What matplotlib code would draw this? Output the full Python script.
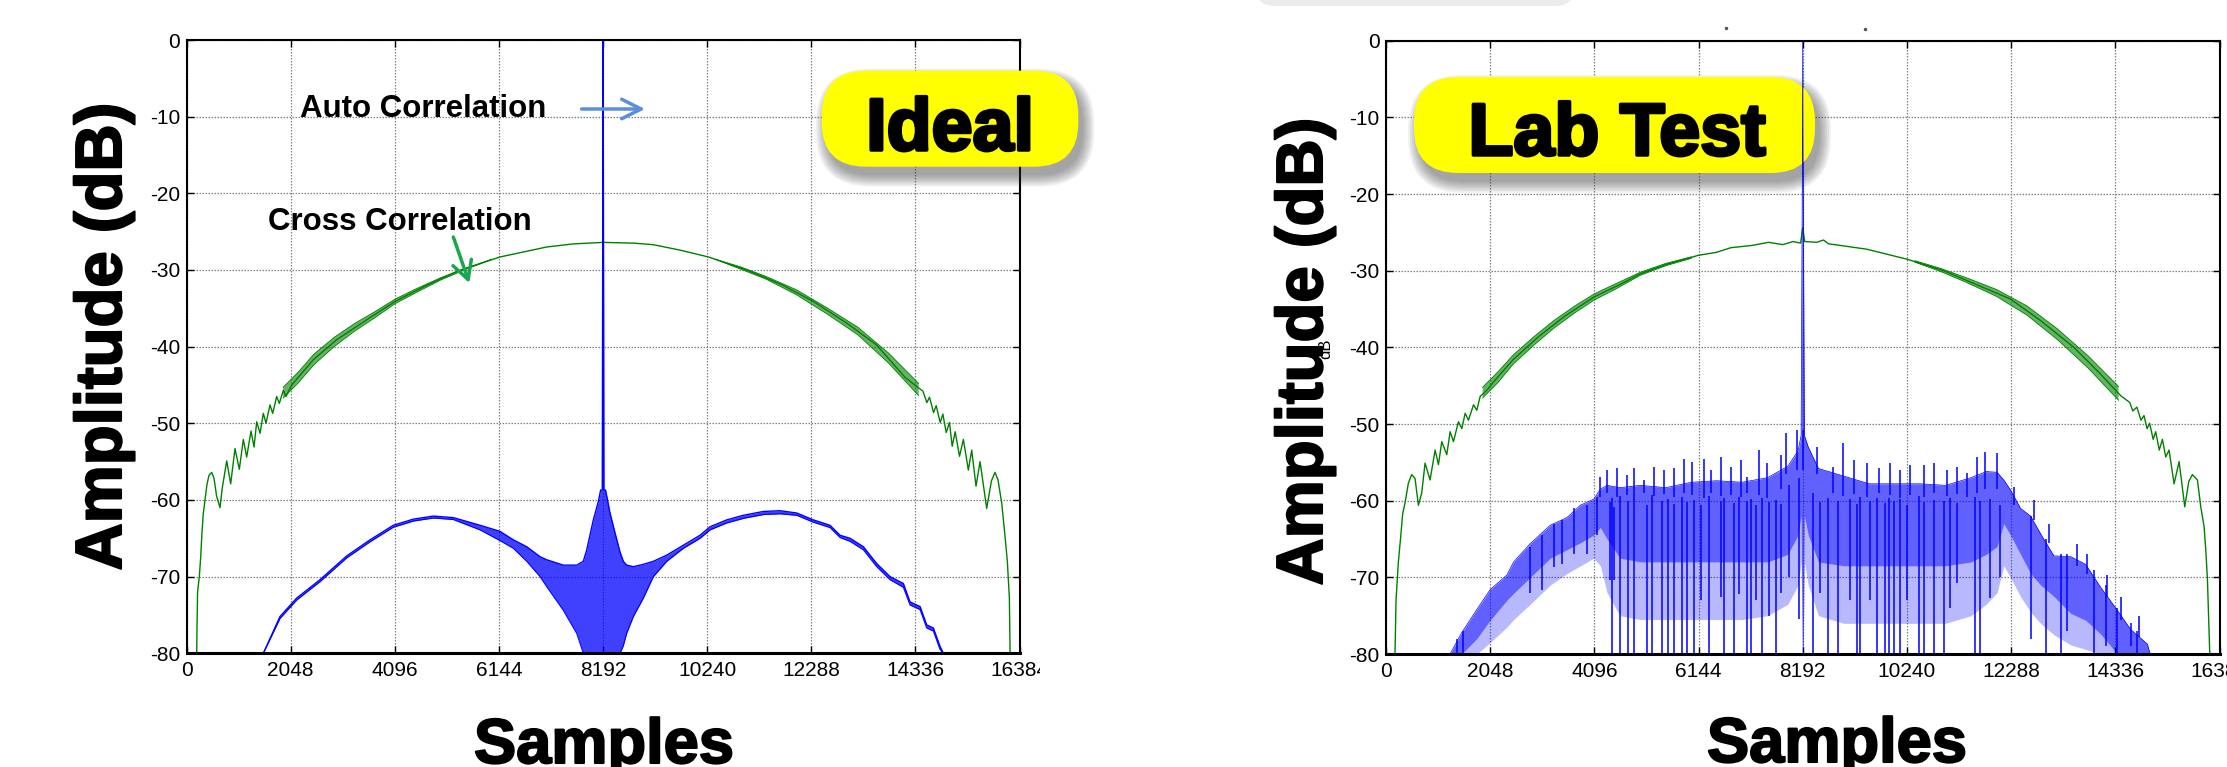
import matplotlib
matplotlib.use('Agg')
import matplotlib.pyplot as plt
import matplotlib.patheffects as pe
from matplotlib.patches import FancyBboxPatch
from matplotlib.transforms import IdentityTransform, Bbox
from matplotlib.lines import Line2D

plt.rcParams['font.family'] = ['Liberation Sans', 'DejaVu Sans']
plt.rcParams['axes.unicode_minus'] = False

W, H = 2227, 767
GREEN = '#008000'
BLUE = '#0000ff'
NAN = float('nan')

# DATA ----------------------------------------------------------------------------------

x_ticks = [0, 2048, 4096, 6144, 8192, 10240, 12288, 14336, 16384]
y_ticks = [-80, -70, -60, -50, -40, -30, -20, -10, 0]

# Ideal: cross correlation (green), centre line
ideal_green_x = [199, 206, 216, 250, 277, 300, 329, 362, 400, 440, 493, 540, 590, 657, 700, 789, 867,
                 952, 1037, 1116, 1182, 1267, 1326, 1379, 1444, 1509, 1562, 1640, 1693, 1772, 1824,
                 1902, 1955, 2067, 2493, 2952, 3542, 4099, 4722, 5312, 6165, 7083, 7600, 8192, 8800,
                 9180, 9700, 10262, 11017, 11700, 12327, 13000, 13574, 14130, 14361, 14482, 14560,
                 14612, 14691, 14744, 14822, 14875, 14940, 15005, 15058, 15117, 15202, 15278, 15376,
                 15442, 15527, 15606, 15737, 15830, 15901, 15960, 16032, 16098, 16143, 16183, 16197]
ideal_green_y = [-80, -76, -72, -70, -67.5, -64.5, -61.7, -60.0, -58.0, -56.8, -56.4, -57.2, -59.5,
                 -61.0, -58.5, -54.9, -57.9, -53.3, -56.0, -52.1, -54.4, -51.0, -53.1, -49.8, -51.3,
                 -48.7, -50.0, -47.6, -48.7, -46.5, -47.4, -45.7, -46.5, -45.0, -41.7, -39.1, -36.5,
                 -34.1, -32.0, -30.2, -28.3, -27.0, -26.6, -26.4, -26.5, -26.7, -27.4, -28.3, -30.0,
                 -31.9, -34.1, -37.0, -39.8, -44.0, -45.2, -45.8, -47.3, -46.6, -48.6, -47.7, -49.9,
                 -48.8, -51.2, -49.9, -53.0, -51.1, -54.3, -52.1, -56.1, -53.5, -58.2, -55.0, -61.1,
                 -57.5, -56.4, -57.4, -60.4, -64.8, -68.0, -72.8, -80]
# thickness of the dense ripple band of the green trace (NaN = no band near the top)
ideal_band_x = [1900, 2200, 2500, 2900, 3300, 3700, 4100, 4500, 5000, 5500, 6000, 8192,
                10400, 10900, 11400, 12000, 12600, 13200, 13800, 14400]
ideal_band_hi = [-45.3, -43.3, -41.0, -38.8, -37.0, -35.45, -33.8, -32.5, -31.0, -29.75, -28.6, NAN,
                 -28.6, -29.6, -30.85, -32.6, -34.95, -37.45, -40.8, -44.8]
ideal_band_lo = [-46.7, -44.7, -42.4, -40.0, -38.0, -36.25, -34.4, -33.0, -31.3, -29.9, -28.6, NAN,
                 -28.6, -29.9, -31.2, -33.25, -35.75, -38.45, -42.1, -46.4]

# Ideal: auto correlation (blue), upper and lower edge of the trace
ideal_blue_x = [1509, 1837, 2165, 2624, 3149, 3608, 4066, 4460, 4853, 5246, 5771, 6165, 6426, 6690,
                6952, 7083, 7410, 7673, 7803, 7870, 8000, 8098, 8144, 8176, 8186, 8192, 8198, 8208,
                8240, 8328, 8427, 8525, 8590, 8655, 8787, 8983, 9180, 9443, 9771, 10099, 10295,
                10623, 10951, 11344, 11672, 12000, 12327, 12655, 12852, 13049, 13311, 13574, 13836,
                14098, 14229, 14426, 14557, 14688, 14819, 14885]
ideal_blue_hi = [-80, -75.2, -72.8, -70.4, -67.3, -65.2, -63.3, -62.5, -62.1, -62.3, -63.3, -64.1,
                 -65.2, -66.1, -67.4, -67.8, -68.5, -68.5, -68.0, -66.5, -62.6, -60.2, -58.7, -58.7,
                 -20, 0, -20, -58.7, -58.7, -61.7, -64.3, -66.8, -68.0, -68.5, -68.7, -68.4, -68.0,
                 -67.2, -65.9, -64.6, -63.5, -62.6, -62.0, -61.5, -61.4, -61.7, -62.6, -63.3, -64.6,
                 -65.0, -66.1, -68.3, -70.0, -70.9, -73.3, -73.9, -76.3, -76.7, -79.1, -80]
ideal_blue_lo = [-80, -75.45, -73.05, -70.65, -67.55, -65.45, -63.55, -62.75, -62.35, -62.55, -63.9,
                 -65.3, -66.3, -68.0, -70.0, -71.3, -74.4, -77.4, -80, -80, -80, -80, -80, -80, -80,
                 -80, -80, -80, -80, -80, -80, -80, -79.0, -77.4, -75.2, -72.8, -70.0, -68.0, -66.3,
                 -65.0, -63.9, -63.0, -62.4, -61.9, -61.8, -62.0, -62.9, -63.6, -64.9, -65.4, -66.5,
                 -68.7, -70.4, -71.4, -73.7, -74.3, -76.7, -77.1, -79.5, -80]

# Lab test: cross correlation (green)
lab_green_x = [177, 197, 243, 289, 328, 374, 440, 505, 571, 637, 702, 768, 866, 965, 1031, 1096, 1195,
               1260, 1326, 1424, 1490, 1556, 1621, 1720, 1785, 1851, 1982, 2114, 2500, 3000, 3500,
               4096, 4600, 5000, 5500, 6137, 6500, 6780, 7200, 7520, 7800, 8000, 8150, 8192, 8230,
               8468, 8600, 8700, 8927, 9452, 10240, 10962, 11815, 12275, 12865, 13522, 14047, 14441,
               14620, 14680, 14760, 14840, 14900, 14960, 15010, 15080, 15130, 15200, 15262, 15327,
               15393, 15491, 15590, 15701, 15780, 15852, 15950, 16016, 16081, 16114, 16147, 16180,
               16193]
lab_green_y = [-80, -73, -68, -64.7, -61.7, -60.3, -57.7, -56.6, -57.1, -60.6, -59.0, -55.1, -57.3,
               -53.4, -55.3, -52.3, -54.0, -51.0, -52.3, -49.7, -50.6, -48.6, -49.5, -47.5, -48.2,
               -46.4, -45.6, -44.5, -41.6, -38.6, -36.0, -33.4, -31.8, -30.4, -29.2, -28.0, -27.6,
               -27.0, -26.7, -26.3, -26.6, -26.2, -26.4, -24.4, -26.2, -26.3, -26.0, -26.5, -26.7,
               -27.2, -28.5, -30.0, -32.4, -33.7, -36.5, -40.0, -43.5, -46.3, -47.2, -48.3, -47.8,
               -49.5, -48.9, -50.6, -49.9, -52.0, -51.0, -53.4, -52.0, -54.3, -53.4, -57.8, -54.9,
               -60.8, -57.5, -56.6, -57.3, -60.8, -63.4, -66.4, -70.3, -77.3, -80]
lab_band_x = [1900, 2200, 2500, 2900, 3300, 3700, 4100, 4500, 5000, 5500, 6000, 8192,
              10400, 10900, 11400, 12000, 12600, 13200, 13800, 14400]
lab_band_hi = [-45.2, -43.2, -41.0, -38.65, -36.5, -34.65, -33.0, -31.75, -30.2, -29.05, -28.2, NAN,
               -28.7, -29.7, -30.9, -32.45, -34.6, -37.6, -41.1, -45.1]
lab_band_lo = [-46.6, -44.6, -42.2, -39.75, -37.5, -35.55, -33.8, -32.45, -30.6, -29.35, -28.4, NAN,
               -28.9, -30.1, -31.5, -33.35, -35.8, -39.0, -42.7, -46.9]

# Lab test: auto correlation (blue), dense band edges, spikes and dropouts
lab_x = [1260, 1490, 1785, 2048, 2376, 2508, 2836, 3230, 3558, 3820, 4083, 4214, 4345, 4600, 5000,
         5500, 6000, 6500, 7000, 7500, 7900, 8100, 8160, 8182, 8192, 8202, 8224, 8300, 8500, 9000,
         9500, 10000, 10500, 11000, 11500, 11800, 12012, 12144, 12275, 12472, 12669, 12866, 13129,
         13457, 13752, 14047, 14376, 14638, 14966, 15019]
lab_top = [-80, -77.2, -74.2, -71.6, -69.7, -68.0, -65.6, -63.2, -62.2, -60.6, -59.8, -58.5, -58.0,
           -58.3, -58.0, -58.3, -57.6, -57.4, -57.6, -57.0, -55.5, -53.5, -51.5, -20, 0, -20, -51.5,
           -53.0, -55.8, -56.8, -57.8, -57.8, -57.8, -58.0, -57.0, -56.2, -56.3, -57.3, -58.6,
           -61.0, -62.0, -64.3, -67.2, -67.3, -68.3, -71.3, -74.3, -76.8, -78.7, -80]
lab_mid = [-80, -80, -78.0, -75.6, -73.0, -72.1, -70.0, -67.5, -66.4, -65.5, -64.5, -63.5, -65.0,
           -67.5, -68.0, -68.0, -68.0, -68.0, -68.0, -68.0, -67.0, -64.5, -62.0, -80, -80, -80,
           -62.0, -64.5, -68.0, -68.5, -68.5, -68.5, -68.5, -68.5, -68.0, -67.0, -66.0, -63.0,
           -64.5, -67.0, -69.5, -71.0, -72.5, -74.7, -75.6, -77.4, -80, -80, -80, -80]
lab_low = [-80, -80, -80, -78.5, -76.5, -75.5, -73.5, -71.0, -69.5, -68.5, -67.5, -68.5, -72.0,
           -75.0, -75.5, -75.5, -75.5, -75.5, -75.5, -75.0, -73.5, -71.0, -68.0, -80, -80, -80,
           -68.0, -71.0, -75.0, -76.0, -76.0, -76.0, -76.0, -76.0, -75.0, -73.5, -72.0, -68.5,
           -70.0, -72.5, -74.5, -76.0, -77.5, -78.8, -79.4, -80, -80, -80, -80, -80]

lab_peak_x = [4214, 4345, 4542, 4739, 4871, 5067, 5265, 5461, 5658, 5855, 6019, 6249, 6380, 6577,
              6774, 6971, 7102, 7332, 7496, 7759, 7857, 8087, 8206, 8468, 8796, 8993, 9190, 9452,
              9682, 9912, 10109, 10306, 10568, 10765, 11028, 11225, 11422, 11618, 11783, 12012,
              12341, 12735, 13030, 13588, 13785, 14179, 14441, 14802]
lab_peak_y = [-56.9, -56.0, -55.8, -56.7, -55.8, -57.3, -55.6, -56.0, -55.8, -54.5, -54.9, -54.5,
              -56.0, -54.3, -55.6, -54.7, -56.9, -53.4, -55.1, -54.0, -51.2, -50.8, -50.8, -53.0,
              -55.6, -52.5, -54.7, -55.1, -55.8, -55.1, -56.0, -55.3, -55.3, -55.1, -56.0, -55.6,
              -56.4, -54.3, -53.6, -53.8, -58.2, -59.9, -63.0, -65.6, -66.9, -69.7, -72.5, -75.1]
lab_peak_base = [-59.5, -59.0, -59.5, -59.2, -59.6, -59.0, -59.4, -59.1, -59.5, -59.0, -59.3, -59.6,
                 -59.0, -59.4, -59.2, -59.5, -59.0, -59.3, -59.6, -58.5, -56.5, -56.0, -56.0, -56.5,
                 -59.0, -59.4, -59.1, -59.5, -59.0, -59.3, -59.6, -59.2, -59.5, -59.0, -59.4, -59.1,
                 -59.5, -59.0, -58.5, -58.5, -60.5, -62.5, -65.5, -68.5, -69.5, -72.5, -75.5, -77.8]

lab_drop_x = [1405, 1510, 2836, 3065, 3295, 3459, 3689, 3952, 4148,
              4411, 4444, 4477, 4608, 4752, 4871, 5133, 5232, 5416, 5540, 5658, 5822, 5908, 6052,
              6183, 6347, 6577, 6643, 6840, 6938, 7102, 7168, 7266, 7398, 7529, 7660, 7759, 7923,
              8120, 8402, 8533, 8698, 8894, 9124, 9255, 9321, 9518, 9649, 9813, 9879, 9977, 10109,
              10240, 10470, 10568, 10765, 10962, 11093, 11225, 11586, 11684, 11881, 12078,
              12669, 12964, 13260, 13391, 13916, 14146, 14376, 14638, 14769]
lab_drop_top = [-78, -77, -66, -64.5, -63, -62.5, -61, -60.5, -59.5,
                -60.2, -59.6, -60.8, -59.4, -60.1, -59.7, -60.5, -59.3, -60.0, -59.8, -60.4, -59.5,
                -60.2, -59.9, -60.6, -59.4, -60.0, -59.7, -60.3, -59.5, -60.1, -59.8, -60.5, -59.6,
                -60.2, -59.9, -60.4, -58.0, -57.0, -59.0, -60.2, -59.6, -60.1, -59.8, -60.4, -59.5,
                -60.0, -59.7, -60.3, -59.6, -60.1, -59.8, -60.5, -59.4, -60.2, -59.9, -60.0, -59.7,
                -60.3, -59.5, -60.1, -59.8, -60.5,
                -62, -65, -67, -67, -69, -71, -74, -76, -77]
lab_drop_y = [-80, -80, -72.1, -71.7, -68.6, -68.2, -66.9, -66.9, -64.5,
              -70.3, -80, -70.3, -80, -80, -80, -80, -80, -80, -80, -80, -80, -80, -80,
              -73, -80, -72.6, -80, -80, -72.2, -80, -80, -73, -80, -75, -80, -72, -70,
              -75.4, -80, -72, -80, -80, -73, -80, -80, -73, -80, -80, -80, -80, -80,
              -73, -80, -80, -80, -80, -74, -70.8, -80, -80, -72.7, -70,
              -78, -80, -80, -77, -80, -79, -80, -79, -80]


# LAYOUT HELPERS ------------------------------------------------------------------------

def px_rect(x0, y0, x1, y1):
    # pixel box (top-left origin) -> figure fraction rect
    return [x0 / W, 1 - y1 / H, (x1 - x0) / W, (y1 - y0) / H]


def style_axes(ax):
    ax.set_xlim(0, 16384)
    ax.set_ylim(-80, 0)
    ax.set_xticks(x_ticks)
    ax.set_yticks(y_ticks)
    ax.grid(True, color='#808080', linestyle=(0, (1.2, 1.2)), linewidth=0.9)
    ax.set_axisbelow(True)
    ax.tick_params(direction='in', length=5, width=1.0, top=True, right=True, labelsize=15)
    ax.tick_params(axis='x', pad=5.5)
    ax.tick_params(axis='y', pad=4.5)
    for s in ax.spines.values():
        s.set_linewidth(1.5)
    ax.spines['bottom'].set_linewidth(2.2)


def badge(ax, x0, y0, x1, y1, label, tx, ty, z):
    # yellow pill with soft drop shadow, pixel coords (top-left origin)
    bx, by, bw, bh = x0, H - y1, x1 - x0, y1 - y0
    r = bh * 0.46
    for i in range(7):
        g = i * 1.8
        ax.add_patch(FancyBboxPatch((bx + 5 - g, by - 9 - g), bw + 2 * g, bh + 2 * g,
                                    boxstyle='round,pad=0,rounding_size=%.1f' % (r + g),
                                    transform=IdentityTransform(), facecolor='#303030',
                                    edgecolor='none', alpha=0.075, clip_on=False, zorder=z))
    ax.add_patch(FancyBboxPatch((bx, by), bw, bh, boxstyle='round,pad=0,rounding_size=%.1f' % r,
                                transform=IdentityTransform(), facecolor='#ffff00',
                                edgecolor='none', clip_on=False, zorder=z + 0.01))
    ax.text(tx, H - ty, label, transform=IdentityTransform(), ha='center', va='baseline',
            fontsize=53, fontweight='bold', color='black', zorder=z + 0.02, clip_on=False,
            path_effects=[pe.withStroke(linewidth=2.5, foreground='black')])


fig = plt.figure(figsize=(W / 100, H / 100), dpi=100)
fig.patch.set_facecolor('white')
ax1 = fig.add_axes(px_rect(186.6, 40.0, 1019.6, 653.3))
ax2 = fig.add_axes(px_rect(1386.0, 40.7, 2219.5, 654.0))

# IDEAL ---------------------------------------------------------------------------------
ax1.fill_between(ideal_band_x, ideal_band_lo, ideal_band_hi, color=GREEN, alpha=0.6, lw=0)
ax1.plot(ideal_band_x, ideal_band_hi, color=GREEN, lw=0.6)
ax1.plot(ideal_band_x, ideal_band_lo, color=GREEN, lw=0.6)
ax1.plot(ideal_green_x, ideal_green_y, color=GREEN, lw=1.0)

ax1.fill_between(ideal_blue_x, ideal_blue_lo, ideal_blue_hi, color=BLUE, alpha=0.75, lw=0)
ax1.plot(ideal_blue_x, ideal_blue_hi, color=BLUE, lw=1.0)
ax1.plot(ideal_blue_x, ideal_blue_lo, color=BLUE, lw=0.8)

ax1.text(2230, -10.1, 'Auto Correlation', fontsize=22.5, fontweight='bold', ha='left',
         va='baseline', zorder=4)
ax1.annotate('', xy=(9017, -9.0), xytext=(7770, -9.0),
             arrowprops=dict(arrowstyle='->,head_length=0.7,head_width=0.35', color='#5b8ed8',
                             lw=2.5, mutation_scale=20, shrinkA=0, shrinkB=0), zorder=4)
ax1.text(1607, -24.8, 'Cross Correlation', fontsize=22.5, fontweight='bold', ha='left',
         va='baseline', zorder=4)
ax1.annotate('', xy=(5561, -31.7), xytext=(5246, -25.7),
             arrowprops=dict(arrowstyle='->,head_length=0.65,head_width=0.35', color='#1aa64f',
                             lw=2.5, mutation_scale=20, shrinkA=0, shrinkB=0), zorder=4)

badge(ax1, 821.7, 70.7, 1078.3, 166.7, 'Ideal', 950, 150, 3)

# LAB TEST ------------------------------------------------------------------------------
ax2.fill_between(lab_band_x, lab_band_lo, lab_band_hi, color=GREEN, alpha=0.6, lw=0)
ax2.plot(lab_band_x, lab_band_hi, color=GREEN, lw=0.6)
ax2.plot(lab_band_x, lab_band_lo, color=GREEN, lw=0.6)
ax2.plot(lab_green_x, lab_green_y, color=GREEN, lw=1.0)

ax2.fill_between(lab_x, lab_low, lab_mid, color=BLUE, alpha=0.28, lw=0)
ax2.fill_between(lab_x, lab_mid, lab_top, color=BLUE, alpha=0.62, lw=0)
ax2.plot(lab_x, lab_top, color=BLUE, lw=0.5)
ax2.vlines(lab_peak_x, lab_peak_base, lab_peak_y, color=BLUE, lw=1.1)
ax2.vlines(lab_drop_x, lab_drop_y, lab_drop_top, color=BLUE, lw=1.1)

badge(ax2, 1414, 77, 1815, 173, 'Lab Test', 1617, 155, 1.8)

# small 'dB' remnant over the right y label
fig.text(1326 / W, 1 - 349 / H, 'dB', rotation=90, ha='center', va='center', fontsize=12)

for ax in (ax1, ax2):
    style_axes(ax)

# the 16384 label of the left panel is cut off in the picture
for lbl in ax1.get_xticklabels():
    if lbl.get_text() == '16384':
        lbl.set_clip_box(Bbox.from_extents(0, 0, 1040, H))
        lbl.set_clip_on(True)

# axis titles
heavy = [pe.withStroke(linewidth=1.5, foreground='black')]
fig.text(104 / W, 1 - 337 / H, 'Amplitude (dB)', rotation=90, ha='center', va='center',
         fontsize=47, fontweight='bold', path_effects=heavy)
fig.text(1305 / W, 1 - 352 / H, 'Amplitude (dB)', rotation=90, ha='center', va='center',
         fontsize=47, fontweight='bold', path_effects=heavy)
fig.text(604 / W, 1 - 763 / H, 'Samples', ha='center', va='baseline', fontsize=45.5,
         fontweight='bold', path_effects=heavy)
fig.text(1837 / W, 1 - 762 / H, 'Samples', ha='center', va='baseline', fontsize=45.5,
         fontweight='bold', path_effects=heavy)

# faint leftovers at the top of the right panel
fig.add_artist(FancyBboxPatch((1255, H - 6), 320, 40, boxstyle='round,pad=0,rounding_size=20',
                              transform=IdentityTransform(), facecolor='#ececec',
                              edgecolor='none'))
for dx, dy in [(1726, 28), (1865, 29)]:
    fig.add_artist(Line2D([dx], [H - dy], marker='o', ms=1.5, color='#555555', lw=0,
                          transform=IdentityTransform()))

fig.savefig('out.png', dpi=100)
